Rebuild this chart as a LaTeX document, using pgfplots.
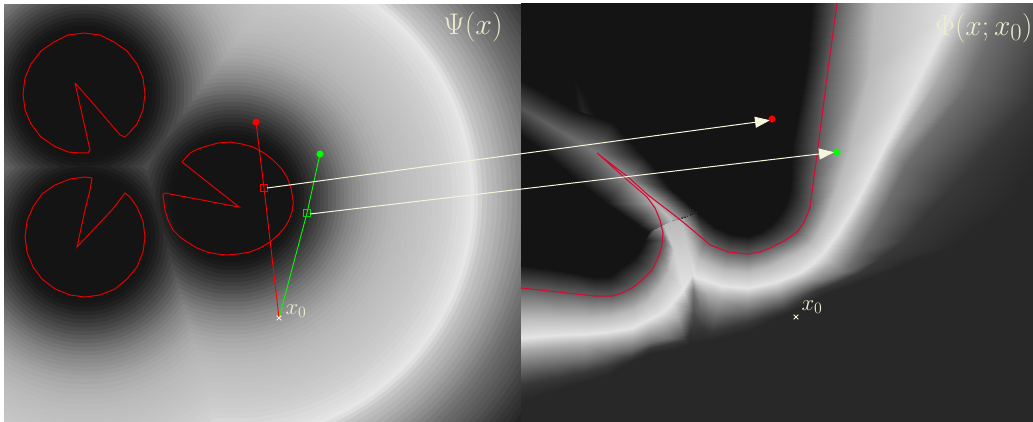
\documentclass[border=0pt]{standalone}
\usepackage{pgfplots}
\pgfplotsset{compat=1.18}
\usepgfplotslibrary{patchplots}
\usepackage{pgfplotstable}
\usetikzlibrary{arrows.meta}

\definecolor{g36}{RGB}{36,36,36}
\definecolor{g40}{RGB}{40,40,40}
\definecolor{g20}{RGB}{20,20,20}
\definecolor{cream}{RGB}{245,245,220}
\definecolor{labelc}{RGB}{236,236,205}
\definecolor{crim}{RGB}{214,10,50}
\definecolor{outlinered}{RGB}{228,0,0}
\definecolor{lime}{RGB}{0,255,0}
\definecolor{seama}{RGB}{40,40,40}
\definecolor{seamb}{RGB}{90,90,90}
\definecolor{seamc}{RGB}{150,150,150}

% left field: level discs round the three shapes, largest first
\pgfplotstableread{
x y r g
84 94 364 44
85 237 362 44
232 198 360 44
84 94 359 49
85 237 357 49
232 198 355 49
84 94 354 54
85 237 352 54
232 198 350 54
84 94 349 61
85 237 347 61
232 198 345 61
84 94 344 68
85 237 342 68
232 198 340 68
84 94 339 75
85 237 337 75
232 198 335 75
84 94 334 82
85 237 332 82
232 198 330 82
84 94 329 88
85 237 327 88
232 198 325 88
84 94 324 94
85 237 322 94
232 198 320 94
84 94 319 100
85 237 317 100
232 198 315 100
84 94 314 106
85 237 312 106
232 198 310 106
84 94 309 113
85 237 307 113
232 198 305 113
84 94 304 121
85 237 302 121
232 198 300 121
84 94 299 130
85 237 297 130
232 198 295 130
84 94 294 139
85 237 292 139
232 198 290 139
84 94 289 147
85 237 287 147
232 198 285 147
84 94 284 156
85 237 282 156
232 198 280 156
84 94 279 164
85 237 277 164
232 198 275 164
84 94 274 172
85 237 272 172
232 198 270 172
84 94 269 180
85 237 267 180
232 198 265 180
84 94 264 187
85 237 262 187
232 198 260 187
84 94 259 196
85 237 257 196
232 198 255 196
84 94 254 208
85 237 252 208
232 198 250 208
84 94 250 220
85 237 248 220
232 198 246 220
84 94 246 228
85 237 244 228
232 198 242 228
84 94 242 224
85 237 240 224
232 198 238 224
84 94 238 220
85 237 236 220
232 198 234 220
84 94 234 217
85 237 232 217
232 198 230 217
84 94 229 213
85 237 227 213
232 198 225 213
84 94 224 209
85 237 222 209
232 198 220 209
84 94 219 206
85 237 217 206
232 198 215 206
84 94 214 203
85 237 212 203
232 198 210 203
84 94 209 201
85 237 207 201
232 198 205 201
84 94 204 198
85 237 202 198
232 198 200 198
84 94 199 196
85 237 197 196
232 198 195 196
84 94 194 194
85 237 192 194
232 198 190 194
84 94 189 192
85 237 187 192
232 198 185 192
84 94 184 190
85 237 182 190
232 198 180 190
84 94 179 188
85 237 177 188
232 198 175 188
84 94 174 186
85 237 172 186
232 198 170 186
84 94 169 183
85 237 167 183
232 198 165 183
84 94 164 180
85 237 162 180
232 198 160 180
84 94 159 176
85 237 157 176
232 198 155 176
84 94 154 172
85 237 152 172
232 198 150 172
84 94 149 167
85 237 147 167
232 198 145 167
84 94 144 162
85 237 142 162
232 198 140 162
84 94 140 156
85 237 138 156
232 198 136 156
84 94 136 150
85 237 134 150
232 198 132 150
84 94 132 144
85 237 130 144
232 198 128 144
84 94 128 138
85 237 126 138
232 198 124 138
84 94 124 132
85 237 122 132
232 198 120 132
84 94 120 124
85 237 118 124
232 198 116 124
84 94 116 116
85 237 114 116
232 198 112 116
84 94 112 108
85 237 110 108
232 198 108 108
84 94 108 98
85 237 106 98
232 198 104 98
84 94 104 90
85 237 102 90
232 198 100 90
84 94 100 80
85 237 98 80
232 198 96 80
84 94 96 72
85 237 94 72
232 198 92 72
84 94 92 64
85 237 90 64
232 198 88 64
84 94 88 56
85 237 86 56
232 198 84 56
84 94 84 48
85 237 82 48
232 198 80 48
84 94 80 40
85 237 78 40
232 198 76 40
84 94 76 32
85 237 74 32
232 198 72 32
84 94 72 26
85 237 70 26
232 198 68 26
84 94 68 22
85 237 66 22
232 198 64 22
84 94 64 20
85 237 62 20
232 198 60 20
}\leftfield

% right field: one block per station along the contour, inner curve to outer curve
\pgfplotstableread{
x y g
812 0 20
838 0 95
875 0 185
958 0 228
978 0 170
1005 0 110
1075 0 56
1120 0 40
806 70 20
828 70 95
870 70 185
923 70 228
940 75 170
968 85 110
1030 100 56
1075 110 40
792 147 20
818 147 95
850 147 185
884 147 228
893 152 170
905 165 110
950 190 56
1010 205 40
791 172 20
813 180 95
838 183 185
868 180 228
878 186 170
890 196 110
925 215 56
980 226 40
790 190 20
810 207 95
828 212 185
852 210 228
862 215 170
875 225 110
905 240 56
950 248 40
786 203 20
804 221 95
820 229 185
838 233 228
848 240 170
860 250 110
880 258 56
910 262 40
780 213 20
797 232 95
811 243 185
823 253 228
833 262 170
845 272 110
860 272 56
872 277 40
775 220 20
789 238 95
801 250 185
813 263 228
820 271 170
829 279 110
838 282 56
846 286 40
770 225 20
780 243 95
790 256 185
801 272 228
806 279 170
812 285 110
817 290 56
822 295 40
760 232 20
765 249 95
770 266 185
776 282 228
779 291 170
782 300 110
785 309 56
788 313 40
748 236 20
748 254 95
748 272 185
748 288 228
748 298 170
748 310 110
748 322 56
748 331 40
730 234 20
728 252 95
724 270 185
722 286 228
720 298 170
716 315 110
712 331 56
710 341 40
722 230 20
717 247 95
711 265 185
708 281 228
708 295 170
708 312 110
706 329 56
705 341 40
714 226 20
705 240 100
698 258 185
695 277 228
698 292 150
700 310 100
700 327 56
700 342 40
697 212 20
680 219 185
688 250 205
692 275 220
693 290 120
693 310 85
693 328 56
692 343 40
648 232 20
662 222 185
674 250 205
683 290 228
688 305 140
690 320 80
690 332 50
689 344 40
645 240 20
664 240 100
668 272 185
672 303 228
678 318 170
682 332 100
684 340 56
686 345 40
640 250 20
660 253 95
661 285 185
662 313 228
666 325 170
670 338 110
672 343 56
674 349 40
634 258 20
652 270 95
648 300 185
648 320 228
649 331 170
650 342 110
650 348 56
650 353 40
628 263 20
642 280 95
641 305 185
640 324 228
640 335 170
640 346 110
640 353 56
640 358 40
620 268 20
632 288 95
633 310 185
632 328 228
632 338 170
632 349 110
632 357 56
632 361 40
610 276 20
612 296 95
610 316 185
608 332 228
608 342 170
608 354 110
608 366 56
608 375 40
595 277 20
595 296 95
590 318 185
585 334 228
585 345 170
585 360 110
585 372 56
585 382 40
558 270 20
558 292 95
556 318 185
556 335 228
556 347 170
556 363 110
556 378 56
556 390 40
521 265 20
521 288 95
521 318 185
521 338 228
521 350 170
521 367 110
521 385 56
521 402 40
}\rightfield

% grey ridge running up left from the wedge
\pgfplotstableread{
x y g
521 80 20
575 110 20
612 122 20
645 157 20
672 190 20
697 212 20
521 108 85
560 131 100
597 153 122
628 178 145
655 203 180
672 220 190
521 135 20
545 153 20
580 183 20
606 203 20
638 225 20
648 232 20
}\ridge

\pgfplotstableread{
x y g
575 80 20
575 80 22
575 80 20
578 137 20
589 130 46
600 124 20
}\spike

\begin{document}
\begin{tikzpicture}
\begin{axis}[
    scale only axis,
    width=1033pt,
    height=422pt,
    xmin=0, xmax=1033,
    ymin=0, ymax=422,
    y dir=reverse,
    hide axis,
    clip mode=individual,
    clip marker paths=true,
    colormap/blackwhite,
    point meta min=0,
    point meta max=255,
]
    % left panel
    \addplot[draw=none, fill=g36] coordinates {(0,0) (521,0) (521,422) (0,422)} --cycle;
    \addplot[scatter, only marks, mark=*,
        scatter src=explicit,
        scatter/use mapped color={draw=mapped color, fill=mapped color},
        visualization depends on={\thisrow{r} \as \discr},
        scatter/@pre marker code/.append style={/tikz/mark size=\discr}]
        table[x=x, y=y, meta=g] {\leftfield};

    % right panel
    \addplot[draw=none, fill=g40] coordinates {(521,0) (1033,0) (1033,422) (521,422)} --cycle;
    \addplot[draw=none, fill=g20] coordinates {(521,0) (812,0) (806,70) (792,147) (791,172) (790,190) (786,203) (780,213)
        (775,220) (770,225) (760,232) (748,236) (730,234) (722,230) (714,226) (697,212) (648,232) (645,240) (640,250)
        (634,258) (628,263) (620,268) (610,276) (595,277) (558,270) (521,265)} --cycle;
    \addplot[surf, shader=interp, mesh/cols=8, mesh/rows=25, point meta=explicit]
        table[x=x, y=y, meta=g] {\rightfield};
    % seams of the strips
    \addplot[g20, line width=1.4pt] coordinates {(812,0) (806,70) (792,147) (791,172) (790,190) (786,203) (780,213)
        (775,220) (770,225) (760,232) (748,236) (730,234) (722,230) (714,226) (697,212)};
    \addplot[g20, line width=1.4pt] coordinates {(648,232) (645,240) (640,250) (634,258) (628,263) (620,268) (610,276)
        (595,277) (558,270) (521,265)};
    \addplot[surf, shader=interp, mesh/rows=2, mesh/cols=3, point meta=explicit]
        table[x=x, y=y, meta=g] {\spike};
    \addplot[surf, shader=interp, mesh/rows=3, mesh/cols=6, point meta=explicit]
        table[x=x, y=y, meta=g] {\ridge};
    \addplot[seama, line width=1.4pt] coordinates {(697,212) (690,215)};
    \addplot[seamb, line width=1.4pt] coordinates {(690,215) (681,218)};
    \addplot[seamc, line width=1.4pt] coordinates {(681,218) (672,221)};

    % white margin
    \addplot[draw=none, fill=white] coordinates {(0,0) (4,0) (4,422) (0,422)} --cycle;
    \addplot[draw=none, fill=white] coordinates {(0,0) (521,0) (521,4) (0,4)} --cycle;
    \addplot[draw=none, fill=white] coordinates {(521,0) (1033,0) (1033,3) (521,3)} --cycle;

    % shapes
    \addplot[outlinered, line width=1pt] coordinates {(75,83) (90,150) (88,153) (80,153) (68,152) (54,146) (41,137)
        (31,124) (25,110) (23,94) (25,78) (31,64) (41,51) (54,42) (68,35) (84,33) (100,35) (114,42) (127,51) (137,64)
        (143,78) (145,94) (143,110) (137,124) (130,132) (125,137) (120,135) (97,108) (75,83)};
    \addplot[outlinered, line width=1pt] coordinates {(92,178) (90,190) (85,210) (77,247) (112,210) (125,193) (130,197)
        (137,207) (143,221) (145,237) (143,252) (137,267) (127,279) (115,289) (100,295) (85,297) (70,295) (55,289)
        (42,279) (33,267) (27,252) (25,237) (27,221) (33,207) (42,194) (55,185) (70,179) (85,177) (92,178)};
    \addplot[outlinered, line width=1pt] coordinates {(182,162) (239,207) (165,193) (163,195) (165,210) (168,220) (173,230)
        (180,237) (187,242) (197,248) (207,252) (217,254) (227,255) (238,254) (250,252) (260,248) (270,242) (278,235)
        (285,227) (289,220) (292,212) (293,205) (293,200) (291,188) (287,177) (281,168) (273,160) (264,153) (253,147)
        (242,144) (230,142) (218,143) (207,146) (198,149) (190,153) (182,162)};
    \addplot[crim, line width=1.1pt] coordinates {(837,3) (828,70) (818,147) (810,207) (808,213) (803,224) (797,232) (789,238)
        (780,243) (770,248) (760,252) (747,254) (738,253) (728,252) (718,248) (710,245) (702,238) (695,232) (678,218)
        (648,195) (628,177) (597,153) (625,178) (647,197) (655,208) (660,220) (663,233) (662,244) (660,253) (656,262)
        (652,270) (642,280) (632,288) (622,293) (612,296) (595,296) (558,292) (521,288)};

    % rays
    \addplot[red, line width=0.9pt] coordinates {(256,122) (264,188) (279,318)};
    \addplot[lime, line width=0.9pt] coordinates {(320,154) (307,213) (279,318)};
    \addplot[red, only marks, mark=square, mark size=3.2pt, mark options={line width=1pt}] coordinates {(264,188)};
    \addplot[lime!85!black, only marks, mark=square, mark size=3.2pt, mark options={line width=1pt}] coordinates {(307,213)};
    \addplot[cream, only marks, mark=x, mark size=3.2pt, mark options={line width=1pt}] coordinates {(279,318) (796,317)};

    % links between the panels
    \addplot[cream, line width=1pt, shorten >=2pt, -{Triangle[length=15pt, width=11pt]}] coordinates {(267,188) (772,120)};
    \addplot[cream, line width=1pt, shorten >=2pt, -{Triangle[length=15pt, width=11pt]}] coordinates {(310,214) (836,152)};

    \addplot[only marks, mark=*, mark size=3.3pt, mark options={fill=red, draw=red}] coordinates {(256,122) (772,119)};
    \addplot[only marks, mark=*, mark size=3.3pt, mark options={fill=lime, draw=lime}] coordinates {(320,154) (837,152)};

    \node[labelc, scale=1.2, inner sep=0pt] at (axis cs:473,27) {\fontsize{24.88}{30}\selectfont $\Psi(x)$};
    \node[labelc, scale=1.18, inner sep=0pt] at (axis cs:984,28) {\fontsize{24.88}{30}\selectfont $\Phi(x;x_0)$};
    \node[labelc, scale=1.1, inner sep=0pt] at (axis cs:296,311) {\fontsize{20.74}{24}\selectfont $x_0$};
    \node[labelc, scale=1.1, inner sep=0pt] at (axis cs:812,307) {\fontsize{20.74}{24}\selectfont $x_0$};
\end{axis}
\end{tikzpicture}
\end{document}
